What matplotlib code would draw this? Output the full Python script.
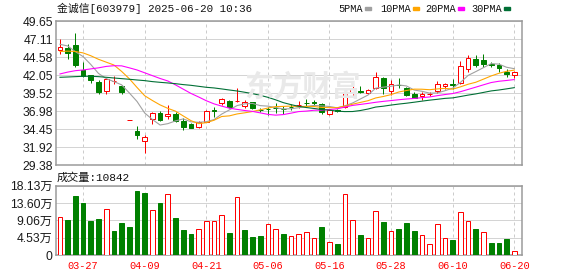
import matplotlib
matplotlib.use("Agg")
import numpy as np
import matplotlib.pyplot as plt
from matplotlib.patches import Rectangle

# ---- data (金诚信 603979, daily) ----
dates = ["03-24", "03-25", "03-26", "03-27", "03-28", "03-31", "04-01", "04-02", "04-03", "04-07",
         "04-08", "04-09", "04-10", "04-11", "04-14", "04-15", "04-16", "04-17", "04-18", "04-21",
         "04-22", "04-23", "04-24", "04-25", "04-28", "04-29", "04-30", "05-06", "05-07", "05-08",
         "05-09", "05-12", "05-13", "05-14", "05-15", "05-16", "05-19", "05-20", "05-21", "05-22",
         "05-23", "05-26", "05-27", "05-28", "05-29", "05-30", "06-03", "06-04", "06-05", "06-06",
         "06-09", "06-10", "06-11", "06-12", "06-13", "06-16", "06-17", "06-18", "06-19", "06-20"]

opens = [45.66, 45.94, 46.32, 42.80, 42.05, 41.16, 39.84, 41.20, 40.60, 35.69,
         34.26, 32.85, 35.86, 36.80, 36.28, 36.56, 35.62, 35.15, 34.82, 35.53,
         37.15, 38.11, 38.44, 38.40, 37.78, 38.25, 37.22, 37.33, 37.43, 37.36,
         37.62, 37.85, 38.15, 38.22, 37.97, 36.56, 37.20, 37.64, 39.61, 39.82,
         39.61, 40.22, 41.72, 39.84, 40.72, 40.31, 39.47, 39.10, 39.42, 39.84,
         40.60, 40.78, 41.02, 42.89, 44.30, 44.21, 43.60, 43.50, 42.56, 42.10]
highs = [47.16, 46.41, 48.05, 43.97, 42.10, 41.39, 41.63, 41.95, 40.69, 35.69,
         34.92, 33.65, 36.84, 37.03, 37.87, 36.84, 36.00, 35.29, 35.57, 37.17,
         37.59, 38.90, 38.58, 40.31, 38.58, 38.34, 37.40, 37.64, 38.11, 37.78,
         37.97, 38.48, 38.67, 38.58, 38.11, 37.26, 37.30, 39.66, 40.55, 40.60,
         40.13, 42.56, 41.86, 41.39, 41.63, 40.40, 39.66, 39.75, 39.75, 41.25,
         40.97, 41.49, 44.06, 44.90, 44.90, 44.99, 43.97, 43.74, 42.94, 42.66]
lows = [45.00, 44.30, 43.27, 41.80, 41.02, 39.42, 39.42, 40.83, 39.42, 35.69,
        33.04, 31.16, 35.20, 35.62, 35.90, 35.43, 34.35, 34.60, 34.68, 35.43,
        36.23, 37.87, 37.50, 38.35, 37.40, 37.26, 36.84, 36.47, 36.70, 36.56,
        37.12, 37.40, 37.78, 37.78, 36.61, 36.47, 36.90, 37.50, 39.00, 39.52,
        39.38, 40.13, 39.47, 39.28, 40.31, 39.10, 38.82, 38.54, 39.19, 39.61,
        40.13, 40.13, 40.88, 42.56, 43.17, 43.17, 43.17, 42.56, 41.86, 41.63]
closes = [46.04, 45.15, 43.50, 41.96, 41.45, 39.66, 41.53, 41.30, 39.66, 35.69,
          33.65, 33.41, 36.75, 35.76, 36.61, 35.62, 34.82, 34.68, 35.43, 37.03,
          37.08, 38.72, 37.64, 38.46, 38.25, 37.40, 37.17, 37.26, 37.40, 37.30,
          37.58, 37.90, 38.10, 38.18, 36.94, 37.17, 36.98, 39.52, 40.13, 39.75,
          39.98, 41.81, 40.22, 40.78, 40.66, 39.28, 38.91, 39.38, 39.47, 40.78,
          40.85, 40.72, 43.36, 44.44, 43.50, 43.64, 43.50, 43.03, 42.24, 42.47]

ma5 = [46.41, 46.18, 45.38, 44.68, 43.57, 42.31, 41.59, 41.16, 40.71, 39.57,
       38.37, 36.74, 35.83, 35.05, 35.24, 35.63, 35.91, 35.50, 35.43, 35.52,
       35.81, 36.59, 37.18, 37.79, 38.03, 38.09, 37.78, 37.71, 37.50, 37.31,
       37.34, 37.49, 37.66, 37.81, 37.74, 37.66, 37.47, 37.76, 38.15, 38.71,
       39.27, 40.24, 40.38, 40.51, 40.69, 40.55, 39.97, 39.80, 39.54, 39.56,
       39.88, 40.24, 41.04, 42.03, 42.57, 43.13, 43.69, 43.62, 43.18, 42.98]
ma10 = [45.40, 45.45, 45.40, 45.20, 44.80, 44.30, 43.90, 43.50, 42.60, 41.57,
        40.34, 39.17, 38.50, 37.88, 37.40, 37.00, 36.33, 35.67, 35.24, 35.38,
        35.72, 36.25, 36.34, 36.61, 36.77, 36.95, 37.19, 37.44, 37.64, 37.67,
        37.72, 37.64, 37.68, 37.65, 37.52, 37.50, 37.48, 37.71, 37.98, 38.23,
        38.47, 38.86, 39.07, 39.33, 39.70, 39.91, 40.10, 40.09, 40.02, 40.13,
        40.21, 40.10, 40.42, 40.79, 41.07, 41.51, 41.96, 42.33, 42.61, 42.78]
ma20 = [42.24, 42.50, 42.70, 42.80, 42.95, 43.10, 43.30, 43.40, 43.38, 43.10,
        42.80, 42.40, 42.00, 41.60, 41.25, 40.70, 40.10, 39.50, 39.00, 38.47,
        38.03, 37.71, 37.42, 37.25, 37.09, 36.97, 36.76, 36.55, 36.44, 36.52,
        36.72, 36.94, 37.01, 37.13, 37.15, 37.23, 37.33, 37.58, 37.81, 37.95,
        38.09, 38.25, 38.38, 38.49, 38.61, 38.71, 38.79, 38.90, 39.00, 39.18,
        39.34, 39.48, 39.74, 40.06, 40.38, 40.71, 41.03, 41.21, 41.32, 41.45]
ma30 = [41.77, 41.81, 41.86, 41.91, 41.91, 41.86, 41.77, 41.67, 41.58, 41.49,
        41.39, 41.30, 41.16, 41.06, 40.97, 40.87, 40.74, 40.64, 40.50, 40.36,
        40.27, 40.13, 39.98, 39.84, 39.66, 39.47, 39.23, 38.95, 38.60, 38.20,
        37.92, 37.68, 37.51, 37.38, 37.23, 37.15, 37.00, 36.94, 36.95, 37.09,
        37.30, 37.58, 37.70, 37.86, 38.00, 38.12, 38.26, 38.41, 38.55, 38.67,
        38.80, 38.87, 39.06, 39.26, 39.43, 39.64, 39.85, 39.98, 40.14, 40.31]

# volume in 万 (10k lots); 1 = close above previous close
volume = [9.85, 9.16, 15.43, 13.60, 8.89, 9.42, 11.95, 6.28, 8.37, 7.32,
          16.74, 16.22, 11.69, 13.60, 15.87, 9.68, 6.54, 5.49, 6.71, 8.81,
          8.81, 10.38, 5.76, 15.09, 6.54, 4.71, 4.97, 8.11, 6.71, 5.49,
          4.88, 5.41, 5.93, 4.36, 7.32, 3.40, 2.88, 15.87, 9.07, 5.23,
          4.36, 11.42, 8.63, 6.19, 6.80, 8.37, 6.28, 5.15, 2.79, 8.02,
          4.36, 3.92, 11.16, 8.81, 6.80, 5.93, 3.14, 3.14, 4.19, 1.08]
vol_up = [1, 0, 0, 0, 0, 0, 1, 0, 0, 0,
          0, 0, 1, 0, 1, 0, 0, 0, 1, 1,
          1, 1, 0, 1, 0, 0, 0, 1, 1, 0,
          1, 1, 1, 1, 0, 1, 0, 1, 1, 0,
          1, 1, 0, 1, 0, 0, 0, 1, 1, 1,
          1, 0, 1, 1, 0, 1, 0, 0, 0, 1]

price_ticks = [29.38, 31.92, 34.45, 36.98, 39.52, 42.05, 44.58, 47.11, 49.65]
vol_ticks = [0, 4.53, 9.06, 13.60, 18.13]
vol_labels = ["0", "4.53万", "9.06万", "13.60万", "18.13万"]
ma_names = ["5PMA", "10PMA", "20PMA", "30PMA"]
title = "金诚信[603979] 2025-06-20 10:36"
last_vol = 10842

RED = "#ff0000"
GREEN = "#008000"
ma_colors = ["#a0a0a0", "#ffa500", "#ff00ff", "#006f35"]
GRID = "#d4d4d4"
FRAME = "#999999"

W, H = 578, 276
fig = plt.figure(figsize=(W / 100, H / 100), dpi=100)


def pt(p):
    return p * 0.72


ax1 = fig.add_axes([56 / W, 1 - 165.3 / H, 466.3 / W, 144 / H])
ax2 = fig.add_axes([56 / W, 1 - 255 / H, 466.3 / W, 69.3 / H])

x = np.arange(len(dates))
o = np.array(opens)
c = np.array(closes)
rise = c >= o
edge = [RED if r else GREEN for r in rise]
face = ["white" if r else GREEN for r in rise]

# watermark
fig.text(302 / W, 1 - 87 / H, "东方财富", fontsize=21, fontweight="bold",
         color="#e9e9e9", ha="center", va="center", family="Noto Sans CJK SC", zorder=0)
ax1.patch.set_alpha(0)
ax2.patch.set_alpha(0)

ax1.vlines(x, lows, highs, colors=edge, linewidth=pt(1), zorder=3)
ax1.bar(x, np.abs(c - o), bottom=np.minimum(o, c), width=0.6, color=face,
        edgecolor=edge, linewidth=pt(1), zorder=4)
for ma, col in zip([ma5, ma10, ma20, ma30], ma_colors):
    ax1.plot(x, ma, color=col, linewidth=pt(1.1), zorder=5)

vcol = [RED if u else GREEN for u in vol_up]
vface = ["white" if u else GREEN for u in vol_up]
ax2.bar(x, volume, width=0.6, color=vface, edgecolor=vcol, linewidth=pt(1), zorder=3)

tick_idx = list(range(3, len(dates), 8))
for ax in (ax1, ax2):
    ax.set_xlim(-0.52, 60.04)
    ax.set_xticks(tick_idx)
    ax.grid(axis="x", color="#cccccc", linestyle=(0, (3, 3)), linewidth=pt(1), zorder=1)
    ax.grid(axis="y", color=GRID, linewidth=pt(1), zorder=1)
    for s in ax.spines.values():
        s.set_color(FRAME)
        s.set_linewidth(pt(1.5))
    ax.tick_params(length=0)
    ax.set_axisbelow(True)

ax1.set_ylim(price_ticks[0], price_ticks[-1])
ax1.set_yticks(price_ticks)
ax1.set_yticklabels([f"{t:.2f}" for t in price_ticks], fontsize=8.7,
                    family="Liberation Sans", color="#1a1a1a")
ax1.tick_params(axis="y", pad=2.3)
ax1.tick_params(axis="x", labelbottom=False)

ax2.set_ylim(0, vol_ticks[-1])
ax2.set_yticks(vol_ticks)
ax2.set_yticklabels(vol_labels, fontsize=8.7, color="#1a1a1a",
                    family=["Liberation Sans", "Noto Sans CJK SC"])
ax2.tick_params(axis="y", pad=2.3)
ax2.set_xticklabels([dates[i] for i in tick_idx], fontsize=7.4, color=RED,
                    family="Liberation Mono")
ax2.tick_params(axis="x", pad=4)

fig.text(57 / W, 1 - 8.5 / H, title, fontsize=7.8, color="#111111",
         family=["Liberation Mono", "Noto Sans CJK SC"], va="center")
fig.text(57 / W, 1 - 177.5 / H, f"成交量:{last_vol}", fontsize=8.0, color="#111111",
         family=["Liberation Mono", "Noto Sans CJK SC"], va="center")

# MA legend at the top right
leg_x = [338.5, 380, 425, 471]
for lx, name, col in zip(leg_x, ma_names, ma_colors):
    t = fig.text(lx / W, 1 - 8.5 / H, name, fontsize=7.4, color="#111111",
                 family="Liberation Mono", va="center")
    w = 6 * len(name)
    fig.patches.append(Rectangle(((lx + w + 2.5) / W, 1 - 10 / H), 6 / W, 2.5 / H,
                                 transform=fig.transFigure, color=col))

fig.savefig("out.png", dpi=100)
